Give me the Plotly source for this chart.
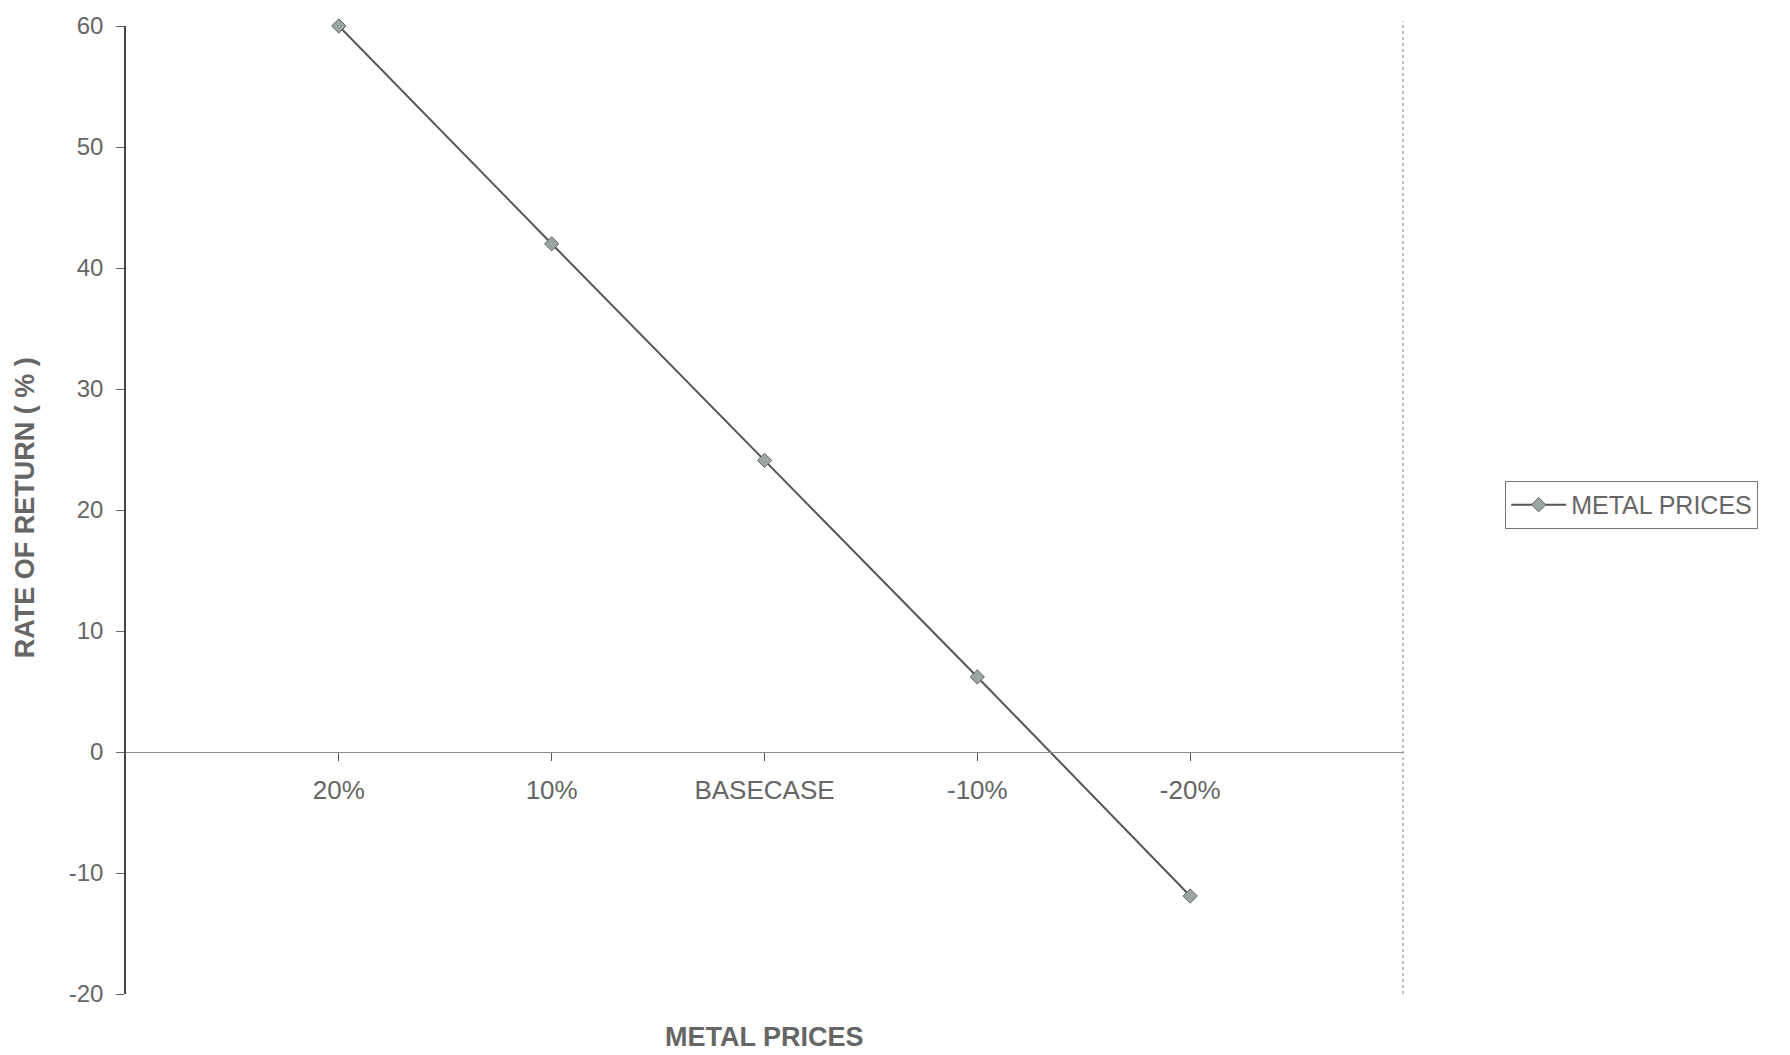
import plotly.graph_objects as go

# Sensitivity of rate of return to metal price changes
price_cases = ["20%", "10%", "BASECASE", "-10%", "-20%"]
rate_of_return = [60.0, 42.0, 24.1, 6.2, -11.9]
y_ticks = [-20, -10, 0, 10, 20, 30, 40, 50, 60]
y_tick_labels = ["-20", "-10", "0", "10", "20", "30", "40", "50", "60"]

TEXT = "#666666"
LINE = "#555555"
FONT = "Liberation Sans, Arial, sans-serif"

fig = go.Figure()
fig.add_trace(go.Scatter(
    x=price_cases,
    y=rate_of_return,
    mode="lines+markers",
    name="METAL PRICES",
    cliponaxis=False,
    line=dict(color=LINE, width=2),
    marker=dict(symbol="diamond", size=11, color="#9aa6a4",
                line=dict(color="#666666", width=1)),
))

# horizontal axis sits on y = 0 (20 of 80 units up from the bottom)
zero_pos = (0 - y_ticks[0]) / (y_ticks[-1] - y_ticks[0])

fig.update_layout(
    width=1790, height=1055,
    margin=dict(l=126, r=387, t=20, b=61),
    paper_bgcolor="white", plot_bgcolor="white",
    font=dict(family=FONT, color=TEXT, size=24),
    showlegend=True,
    legend=dict(
        x=1.08, y=0.53, xanchor="left", yanchor="top",
        bordercolor="#777777", borderwidth=1,
        font=dict(size=25, color=TEXT),
        itemwidth=55,
    ),
    xaxis=dict(
        type="category",
        range=[-1, 5],
        anchor="free", position=zero_pos,
        showline=True, linecolor="#8a8a8a", linewidth=1,
        ticks="outside", ticklen=8, tickcolor="#555555",
        tickfont=dict(size=26, color=TEXT),
        ticklabelstandoff=7,
        showgrid=False, zeroline=False,
    ),
    yaxis=dict(
        range=[y_ticks[0], y_ticks[-1]],
        tickvals=y_ticks,
        ticktext=y_tick_labels,
        showline=True, linecolor="#444444", linewidth=1.5,
        ticks="outside", ticklen=8, tickcolor="#666666",
        tickfont=dict(size=24, color=TEXT),
        ticklabelstandoff=8,
        showgrid=False, zeroline=False,
    ),
    shapes=[dict(
        type="line", xref="paper", yref="paper",
        x0=1, x1=1, y0=0, y1=1.005,
        line=dict(color="#8a8a8a", width=1, dash="dot"),
    )],
    annotations=[
        dict(text="<b>METAL PRICES</b>", xref="paper", yref="paper",
             x=0.5, y=-0.044, xanchor="center", yanchor="middle",
             showarrow=False, font=dict(size=27, color=TEXT)),
        dict(text="<b>RATE OF RETURN ( % )</b>", xref="paper", yref="paper",
             x=-0.079, y=0.502, xanchor="center", yanchor="middle",
             textangle=-90, showarrow=False,
             font=dict(size=27, color=TEXT)),
    ],
)

fig.write_html("out.html")
